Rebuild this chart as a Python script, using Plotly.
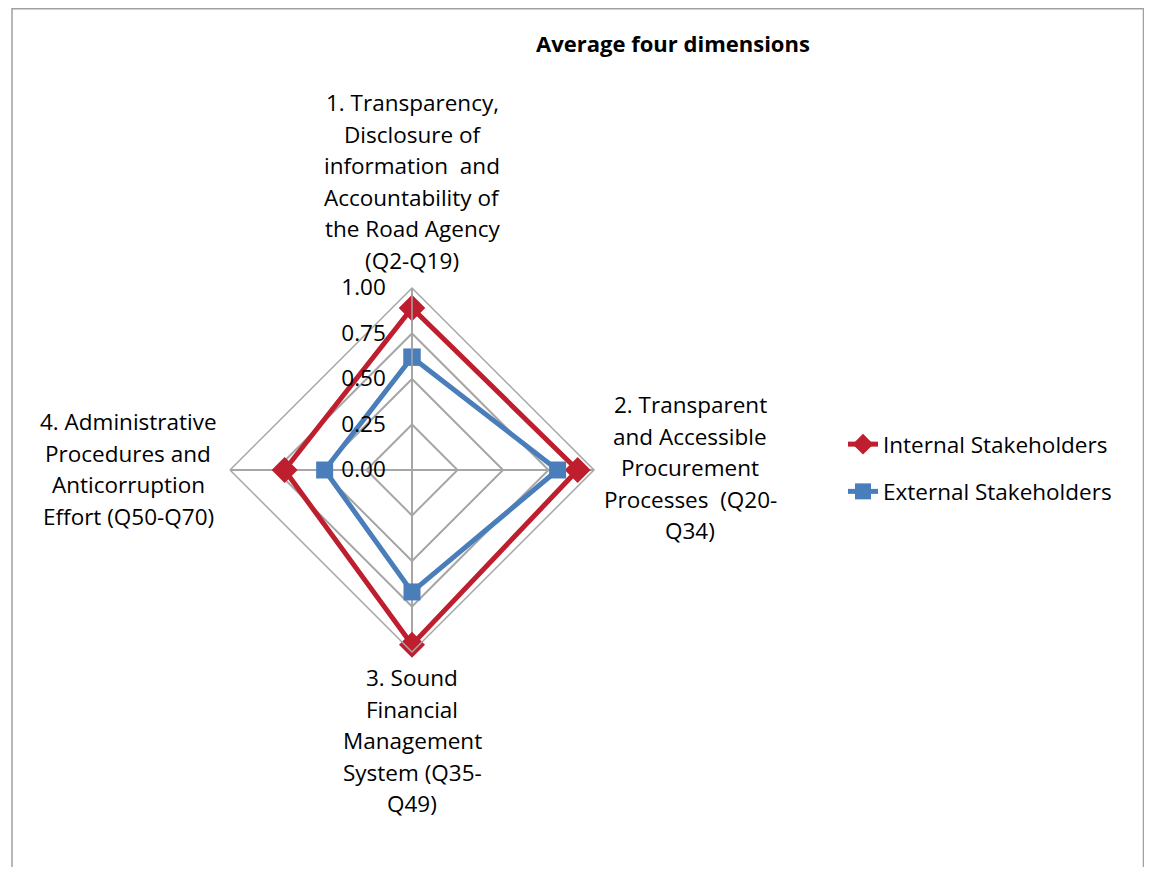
import plotly.graph_objects as go

# ----- data -----
categories = [
    "1. Transparency,<br>Disclosure of<br>information  and<br>Accountability of<br>the Road Agency<br>(Q2-Q19)",
    "2. Transparent<br>and Accessible<br>Procurement<br>Processes  (Q20-<br>Q34)",
    "3. Sound<br>Financial<br>Management<br>System (Q35-<br>Q49)",
    "4. Administrative<br>Procedures and<br>Anticorruption<br>Effort (Q50-Q70)",
]
internal_vals = [0.89, 0.91, 0.96, 0.70]
external_vals = [0.62, 0.80, 0.67, 0.48]
radial_ticks = [0.0, 0.25, 0.5, 0.75, 1.0]

# page has an 8px body margin, so the figure is a bit smaller than the window
OFF = 8
W, H = 1136, 859
FONT = "Open Sans, Noto Sans, sans-serif"
FS = 22.5
GRID = "#A6A6A6"
RED = "#BE1E2D"
BLUE = "#4A7EBB"


def px(x):
    return (x - OFF) / W


def py(y):
    return 1 - (y - OFF) / H


# polar centre / radius in screen pixels
cx, cy, rad = 412, 470, 182

# short ids for the theta axis, labels are drawn as annotations
ids = ["c1", "c2", "c3", "c4"]

fig = go.Figure()

fig.add_trace(go.Scatterpolar(
    r=internal_vals + internal_vals[:1],
    theta=ids + ids[:1],
    mode="lines+markers",
    name="Internal Stakeholders",
    legendgroup="a",
    line=dict(color=RED, width=5),
    marker=dict(symbol="diamond", size=20, color=RED),
))
fig.add_trace(go.Scatterpolar(
    r=external_vals + external_vals[:1],
    theta=ids + ids[:1],
    mode="lines+markers",
    name="External Stakeholders",
    legendgroup="b",
    line=dict(color=BLUE, width=5),
    marker=dict(symbol="square", size=17, color=BLUE),
))

fig.update_layout(
    width=W,
    height=H,
    margin=dict(l=0, r=0, t=0, b=0),
    paper_bgcolor="white",
    plot_bgcolor="white",
    font=dict(family=FONT, size=FS, color="black"),
    title=dict(
        text="<b>Average four dimensions</b>",
        x=px(673), xanchor="center",
        y=py(44), yanchor="middle",
        font=dict(size=22, family=FONT, color="black"),
    ),
    polar=dict(
        domain=dict(
            x=[px(cx - rad), px(cx + rad)],
            y=[py(cy + rad), py(cy - rad)],
        ),
        bgcolor="white",
        gridshape="linear",
        angularaxis=dict(
            rotation=90,
            direction="clockwise",
            showticklabels=False,
            ticks="",
            showgrid=True,
            gridcolor=GRID,
            gridwidth=1.5,
            showline=True,
            linecolor=GRID,
            linewidth=1.5,
        ),
        radialaxis=dict(
            range=[0, 1],
            angle=90,
            side="counterclockwise",
            tickangle=90,
            tickvals=radial_ticks,
            ticktext=[f"{v:.2f}&nbsp;&nbsp;&nbsp;" for v in radial_ticks],
            ticks="",
            showgrid=True,
            gridcolor=GRID,
            gridwidth=1.5,
            showline=True,
            linecolor=GRID,
            linewidth=1.5,
            tickfont=dict(size=FS, family=FONT, color="black"),
        ),
    ),
    legend=dict(
        x=px(843), xanchor="left",
        y=py(423), yanchor="top",
        traceorder="grouped",
        tracegroupgap=15,
        font=dict(size=FS, family=FONT, color="black"),
        bgcolor="rgba(0,0,0,0)",
    ),
)

# category labels: block centres in pixels, one annotation per line
label_centres = [(412, 181.5), (690, 467.5), (412, 740.5), (128, 469)]
line_h = 31.5
for text, (lx, ly) in zip(categories, label_centres):
    lines = text.split("<br>")
    n = len(lines)
    for i, ln in enumerate(lines):
        y_px = ly + (i - (n - 1) / 2) * line_h
        fig.add_annotation(
            text=ln.replace("  ", "&nbsp; "),
            x=px(lx), y=py(y_px),
            xref="paper", yref="paper",
            xanchor="center", yanchor="middle",
            showarrow=False,
            font=dict(size=FS, family=FONT, color="black"),
        )

# chart frame
fig.add_shape(
    type="rect", xref="paper", yref="paper",
    x0=px(12), x1=px(1143.5), y0=-0.05, y1=py(8.8),
    line=dict(color="#A0A0A0", width=1.5),
    fillcolor="rgba(0,0,0,0)",
    layer="below",
)

fig.write_html("out.html")
